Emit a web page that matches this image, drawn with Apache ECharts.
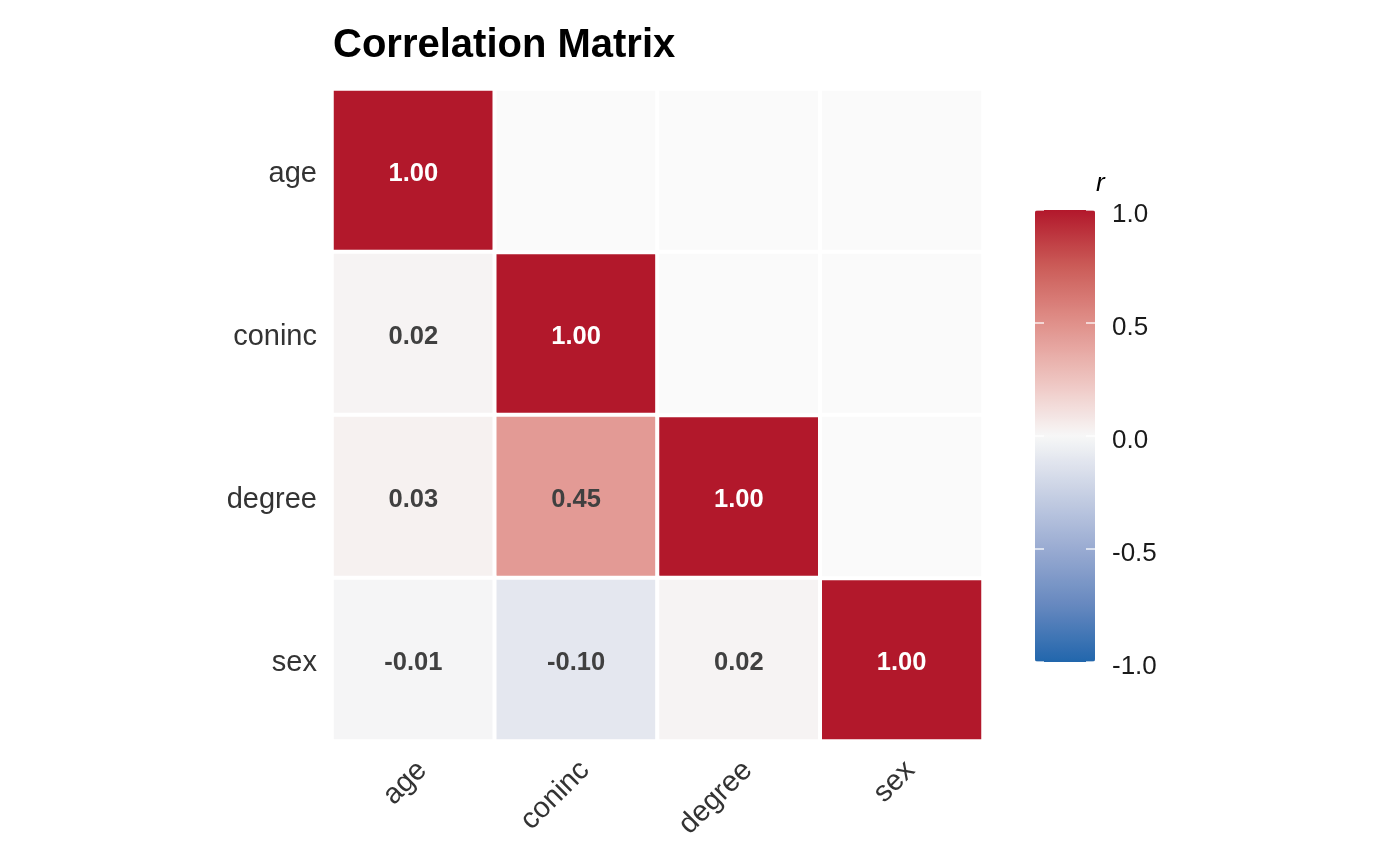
<!DOCTYPE html>
<html>
    <head>
        <meta charset='utf-8'>
        <script src='https://cdn.jsdelivr.net/npm/echarts@6/dist/echarts.min.js'></script>
    </head>
    <body>
        <style>
            html, body, #main {
                width: 100%;
                height: 100%;
                margin: 0;
                background: #fff;
            }
        </style>
        <div id='main'></div>
        <script>

            var FONT = 'Liberation Sans, Arial, Helvetica, sans-serif';

            var variables = ['age', 'coninc', 'degree', 'sex'];

            // lower triangle: [column, row, r]
            var corrCells = [
                [0, 0, 1.00],
                [0, 1, 0.02], [1, 1, 1.00],
                [0, 2, 0.03], [1, 2, 0.45], [2, 2, 1.00],
                [0, 3, -0.01], [1, 3, -0.10], [2, 3, 0.02], [3, 3, 1.00]
            ];

            // upper triangle, left blank
            var blankCells = [
                [1, 0], [2, 0], [3, 0],
                [2, 1], [3, 1],
                [3, 2]
            ];

            var rdbu = ['#2166AC', '#6688BF', '#99ABD2', '#C8D0E4', '#F7F7F7',
                        '#EEC3BF', '#E0908A', '#CB5C58', '#B2182B'];

            var chart = echarts.init(document.getElementById('main'));

            var barTick = { show: true, inside: true, length: 9, lineStyle: { color: '#fff', width: 1.5, opacity: 0.85 } };

            var option = {
                backgroundColor: '#fff',
                animation: false,
                textStyle: { fontFamily: FONT },
                title: [{
                    text: 'Correlation Matrix',
                    left: 328,
                    top: 21,
                    textStyle: { fontSize: 40, fontWeight: 'bold', color: '#000', fontFamily: FONT }
                }, {
                    text: 'r',
                    left: 1091,
                    top: 166,
                    textStyle: { fontSize: 26, fontStyle: 'italic', fontWeight: 'normal', color: '#000', fontFamily: FONT }
                }],
                grid: [{
                    left: 332, top: 89, width: 651, height: 652
                }, {
                    left: 1035, top: 210, width: 60, height: 452
                }],
                xAxis: [{
                    type: 'category',
                    data: variables,
                    gridIndex: 0,
                    axisLine: { show: false },
                    axisTick: { show: false },
                    splitLine: { show: false },
                    axisLabel: {
                        rotate: 45, margin: 16,
                        formatter: function (v) { return '{t|' + v + '}'; },
                        rich: { t: { fontSize: 29, color: '#333', fontFamily: FONT, padding: [25, 0, 0, 0] } }
                    }
                }, {
                    type: 'value',
                    gridIndex: 1,
                    show: false
                }],
                yAxis: [{
                    type: 'category',
                    data: variables,
                    inverse: true,
                    gridIndex: 0,
                    axisLine: { show: false },
                    axisTick: { show: false },
                    splitLine: { show: false },
                    axisLabel: {
                        margin: 15,
                        formatter: function (v) { return '{t|' + v + '}'; },
                        rich: { t: { fontSize: 29, color: '#333', fontFamily: FONT, padding: [6, 0, 0, 0] } }
                    }
                }, {
                    type: 'value',
                    gridIndex: 1,
                    position: 'left',
                    min: -1,
                    max: 1,
                    interval: 0.5,
                    z: 10,
                    axisLine: { show: false },
                    splitLine: { show: false },
                    axisTick: barTick,
                    axisLabel: { show: false }
                }, {
                    type: 'value',
                    gridIndex: 1,
                    position: 'right',
                    min: -1,
                    max: 1,
                    interval: 0.5,
                    z: 10,
                    axisLine: { show: false },
                    splitLine: { show: false },
                    axisTick: barTick,
                    axisLabel: {
                        margin: 17,
                        formatter: function (v) { return '{t|' + v.toFixed(1) + '}'; },
                        rich: { t: { fontSize: 26, color: '#1a1a1a', fontFamily: FONT, padding: [10, 0, 0, 0] } }
                    }
                }],
                visualMap: {
                    type: 'continuous',
                    min: -1,
                    max: 1,
                    seriesIndex: 0,
                    calculable: false,
                    orient: 'vertical',
                    left: 1035,
                    top: 210,
                    padding: 0,
                    itemWidth: 60,
                    itemHeight: 452,
                    text: null,
                    inRange: { color: rdbu }
                },
                series: [{
                    type: 'heatmap',
                    xAxisIndex: 0,
                    yAxisIndex: 0,
                    data: corrCells,
                    itemStyle: { borderColor: '#fff', borderWidth: 4 },
                    label: {
                        show: true,
                        fontFamily: FONT,
                        formatter: function (p) {
                            var v = p.value[2];
                            return (v >= 0.99 ? '{w|' : '{d|') + v.toFixed(2) + '}';
                        },
                        rich: {
                            w: { color: '#fff', fontSize: 25.5, fontWeight: 'bold', fontFamily: FONT, padding: [6, 0, 0, 0] },
                            d: { color: '#404040', fontSize: 25.5, fontWeight: 'bold', fontFamily: FONT, padding: [6, 0, 0, 0] }
                        }
                    },
                    emphasis: { disabled: true }
                }, {
                    type: 'heatmap',
                    xAxisIndex: 0,
                    yAxisIndex: 0,
                    data: blankCells.map(function (c) { return [c[0], c[1], 0]; }),
                    itemStyle: { color: '#FAFAFA', borderColor: '#fff', borderWidth: 4 },
                    label: { show: false },
                    emphasis: { disabled: true }
                }]
            };

            chart.setOption(option);

        </script>
    </body>
</html>
